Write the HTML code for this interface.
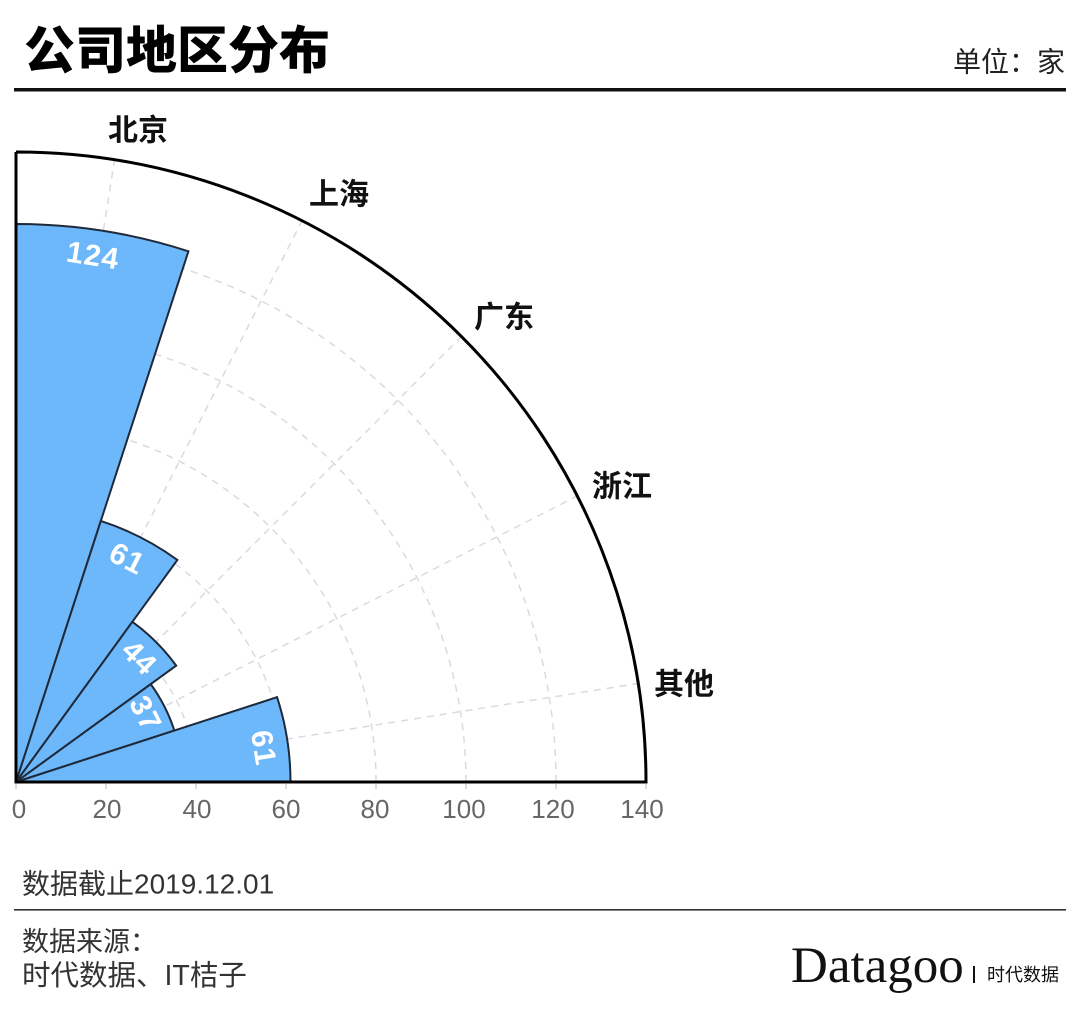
<!DOCTYPE html>
<html>
<head>
<meta charset="utf-8">
<style>
  html, body { margin: 0; padding: 0; background: #ffffff; }
  body { width: 1080px; height: 1013px; overflow: hidden; }
  svg { display: block; }
  .cjk { font-family: "Liberation Sans", "Noto Sans CJK SC", sans-serif; }
</style>
</head>
<body>
<svg width="1080" height="1013" viewBox="0 0 1080 1013" xmlns="http://www.w3.org/2000/svg">
  <rect x="0" y="0" width="1080" height="1013" fill="#ffffff"/>

  <!-- Title -->
  <text x="24" y="51" dominant-baseline="central" class="cjk" font-size="51" font-weight="900" fill="#000">公司地区分布</text>
  <text x="1065" y="62" dominant-baseline="central" text-anchor="end" class="cjk" font-size="28" fill="#222">单位：家</text>
  <rect x="14" y="88" width="1052" height="3.5" fill="#111"/>

  <!-- Grid circles -->
  <g fill="none" stroke="#dcd8e2" stroke-width="1.5" stroke-dasharray="7 6">
    <path d="M106 782 A90 90 0 0 0 16 692"/>
    <path d="M196 782 A180 180 0 0 0 16 602"/>
    <path d="M286 782 A270 270 0 0 0 16 512"/>
    <path d="M376 782 A360 360 0 0 0 16 422"/>
    <path d="M466 782 A450 450 0 0 0 16 332"/>
    <path d="M556 782 A540 540 0 0 0 16 242"/>
    <line x1="16" y1="782" x2="114.55" y2="159.76"/>
    <line x1="16" y1="782" x2="302.02" y2="220.66"/>
    <line x1="16" y1="782" x2="461.48" y2="336.52"/>
    <line x1="16" y1="782" x2="577.34" y2="495.98"/>
    <line x1="16" y1="782" x2="638.24" y2="683.45"/>
  </g>

  <!-- Bars -->
  <g fill="#62b1fb" fill-opacity="0.93" stroke="#1e2a3a" stroke-width="2" stroke-linejoin="miter">
    <path d="M16 782 L16 224 A558 558 0 0 1 188.43 251.31 Z"/>
    <path d="M16 782 L100.83 520.93 A274.5 274.5 0 0 1 177.35 559.92 Z"/>
    <path d="M16 782 L132.38 621.81 A198 198 0 0 1 176.19 665.62 Z"/>
    <path d="M16 782 L150.70 684.13 A166.5 166.5 0 0 1 174.35 730.55 Z"/>
    <path d="M16 782 L277.07 697.17 A274.5 274.5 0 0 1 290.5 782 Z"/>
  </g>

  <!-- Bar value labels -->
  <g font-family="Liberation Sans, sans-serif" font-size="30" font-weight="bold" fill="#ffffff" text-anchor="middle" dominant-baseline="central" letter-spacing="1">
    <text x="93" y="256" transform="rotate(9 93 256)">124</text>
    <text x="127" y="559" transform="rotate(27 127 559)">61</text>
    <text x="139" y="658" transform="rotate(45 139 658)">44</text>
    <text x="145" y="714" transform="rotate(63 145 714)">37</text>
    <text x="263" y="748" transform="rotate(81 263 748)">61</text>
  </g>

  <!-- Outer frame -->
  <path d="M16 152 L16 782 L646 782 A630 630 0 0 0 16 152" fill="none" stroke="#000" stroke-width="3"/>

  <!-- Ticks -->
  <g stroke="#bbbbbb" stroke-width="1">
    <line x1="16" y1="784" x2="16" y2="789"/>
    <line x1="106" y1="784" x2="106" y2="789"/>
    <line x1="196" y1="784" x2="196" y2="789"/>
    <line x1="286" y1="784" x2="286" y2="789"/>
    <line x1="376" y1="784" x2="376" y2="789"/>
    <line x1="466" y1="784" x2="466" y2="789"/>
    <line x1="556" y1="784" x2="556" y2="789"/>
    <line x1="646" y1="784" x2="646" y2="789"/>
  </g>

  <!-- Tick labels -->
  <g font-family="Liberation Sans, sans-serif" font-size="26" fill="#666" text-anchor="middle" dominant-baseline="central">
    <text x="19" y="809">0</text>
    <text x="107" y="809">20</text>
    <text x="197" y="809">40</text>
    <text x="286" y="809">60</text>
    <text x="375" y="809">80</text>
    <text x="464" y="809">100</text>
    <text x="553" y="809">120</text>
    <text x="642" y="809">140</text>
  </g>

  <!-- Category labels -->
  <g class="cjk" font-size="30" font-weight="bold" fill="#111" dominant-baseline="central">
    <text x="108" y="131">北京</text>
    <text x="309" y="195">上海</text>
    <text x="474" y="318">广东</text>
    <text x="592" y="487">浙江</text>
    <text x="654" y="685">其他</text>
  </g>

  <!-- Footer -->
  <text x="22" y="884" dominant-baseline="central" class="cjk" font-size="28" fill="#333">数据截止2019.12.01</text>
  <rect x="14" y="909" width="1052" height="1.6" fill="#333"/>
  <text x="22" y="942" dominant-baseline="central" class="cjk" font-size="27" fill="#333">数据来源：</text>
  <text x="22" y="976" dominant-baseline="central" class="cjk" font-size="28.5" fill="#333">时代数据、IT桔子</text>

  <!-- Logo -->
  <text x="791" y="982" font-family="Liberation Serif, serif" font-size="51" fill="#111">Datagoo</text>
  <rect x="973" y="966" width="2" height="17" fill="#111"/>
  <text x="987" y="975" dominant-baseline="central" class="cjk" font-size="18" fill="#111">时代数据</text>
</svg>
</body>
</html>
